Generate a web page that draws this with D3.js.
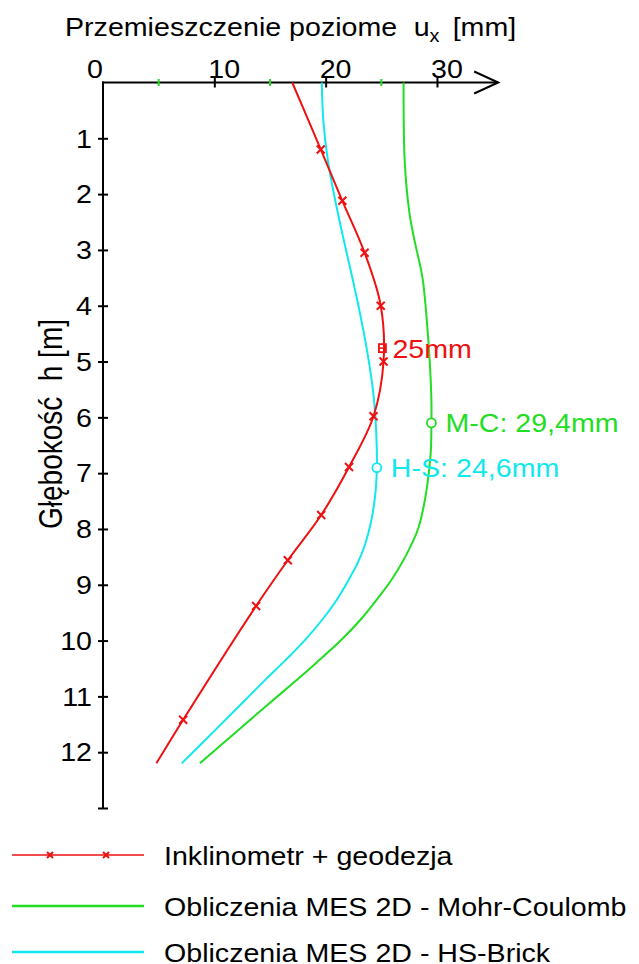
<!DOCTYPE html>
<html><head><meta charset="utf-8">
<script src="https://cdn.jsdelivr.net/npm/d3@7"></script>
<style>html,body{margin:0;padding:0;background:#fff;} svg{display:block;}</style>
</head><body><svg id="c" width="639" height="964"></svg>
<script>
// ---- data ----
const xTickValues = [0, 10, 20, 30];
const xTickLabels = ["0", "10", "20", "30"];
const xMinorTicks = [5, 15, 25];
const yTickValues = [1, 2, 3, 4, 5, 6, 7, 8, 9, 10, 11, 12, 13];
const yTickLabels = ["1", "2", "3", "4", "5", "6", "7", "8", "9", "10", "11", "12", ""];

const inclDepth  = [0, 1.2, 2.12, 3.05, 4.0, 5.0, 5.98, 6.89, 7.75, 8.56, 9.38, 11.42, 12.2];
const inclDisp   = [17.0, 19.56, 21.5, 23.5, 24.95, 25.2, 24.3, 22.1, 19.6, 16.6, 13.75, 7.2, 4.8];
const inclMarker = [0, 1, 1, 1, 1, 1, 1, 1, 1, 1, 1, 1, 0];

const mcDepth = [0, 1.4, 2.3, 2.8, 3.5, 4.3, 5.0, 5.7, 6.1, 6.6, 7.1, 7.5, 8.0, 8.5, 8.9, 9.2, 9.6, 10.0, 10.4, 10.8, 11.2, 11.7, 12.2];
const mcDisp  = [27.0, 27.1, 27.5, 27.95, 28.7, 29.1, 29.35, 29.5, 29.5, 29.45, 29.2, 28.9, 28.3, 27.15, 25.95, 24.85, 23.25, 21.35, 19.15, 16.85, 14.5, 11.6, 8.7];

const hsDepth = [0, 0.7, 1.4, 2.1, 2.8, 3.5, 4.2, 4.9, 5.6, 6.3, 6.9, 7.4, 7.9, 8.3, 8.6, 8.9, 9.3, 9.6, 10.0, 10.35, 10.7, 11.1, 11.6, 12.2];
const hsDisp  = [19.65, 19.8, 20.2, 20.85, 21.6, 22.4, 23.15, 23.8, 24.3, 24.55, 24.6, 24.45, 24.05, 23.5, 22.9, 22.1, 20.9, 19.8, 18.1, 16.4, 14.6, 12.6, 10.1, 7.07];

const annotDepth = [4.76, 6.1, 6.9];
const annotDisp  = [25.1, 29.5, 24.6];
const annotText  = ["25mm", "M-C: 29,4mm", "H-S: 24,6mm"];
const annotShape = ["square", "circle", "circle"];

const legendLabels = ["Inklinometr + geodezja", "Obliczenia MES 2D - Mohr-Coulomb", "Obliczenia MES 2D - HS-Brick"];

// ---- styling ----
const RED = "#ee1111", GREEN = "#22dd22", CYAN = "#11e8ee";
const FONT = "'Liberation Sans', Arial, sans-serif";
const FS = 26, SX = 1.1;
const seriesColors = [RED, GREEN, CYAN];
const annotColors = [RED, GREEN, CYAN];

const svg = d3.select("#c");
const x = d3.scaleLinear().domain([0, 35.5]).range([103, 498.2]);
const y = d3.scaleLinear().domain([0, 13]).range([82.5, 808]);

function stext(g, tx, ty, str, color, anchor, size) {
  return g.append("text")
    .attr("transform", `translate(${tx},${ty}) scale(${SX},1)`)
    .attr("text-anchor", anchor || "start")
    .attr("font-family", FONT)
    .attr("font-size", size || FS)
    .attr("fill", color || "#000")
    .text(str);
}

// ---- title ----
const title = svg.append("text")
  .attr("transform", `translate(65,36) scale(${SX},1)`)
  .attr("font-family", FONT).attr("font-size", FS).attr("fill", "#000");
title.append("tspan").text("Przemieszczenie poziome");
title.append("tspan").attr("dx", 15).text("u");
title.append("tspan").attr("dy", 6).attr("font-size", 18).text("x");
title.append("tspan").attr("dy", -6).attr("dx", 12).text("[mm]");

// ---- top axis ----
const axT = svg.append("g").attr("transform", `translate(0,${y(0)})`);
axT.call(d3.axisTop(x).tickValues(xTickValues.slice(1)).tickFormat("").tickSizeOuter(0))
  .call(g => g.select(".domain").remove());
axT.selectAll(".tick line").attr("y1", -5).attr("y2", 5).attr("stroke", "#000").attr("stroke-width", 2);
axT.append("line").attr("x1", x(0) - 1).attr("x2", x.range()[1]).attr("y1", 0).attr("y2", 0)
  .attr("stroke", "#000").attr("stroke-width", 2);
axT.append("path")
  .attr("d", `M${x.range()[1] - 24},-11 L${x.range()[1]},0 L${x.range()[1] - 24},11`)
  .attr("fill", "none").attr("stroke", "#000").attr("stroke-width", 2);
axT.selectAll(".minor").data(xMinorTicks).join("line").attr("class", "minor")
  .attr("x1", d => x(d)).attr("x2", d => x(d)).attr("y1", -3.5).attr("y2", 3.5)
  .attr("stroke", GREEN).attr("stroke-width", 2);
xTickValues.forEach((v, i) => {
  if (v === 0) stext(svg, x(v), 78, xTickLabels[i], "#000", "end");
  else stext(svg, x(v) - 6, 78, xTickLabels[i], "#000", "start");
});

// ---- left axis ----
const axL = svg.append("g").attr("transform", `translate(${x(0)},0)`);
axL.call(d3.axisLeft(y).tickValues(yTickValues).tickFormat("").tickSizeOuter(0))
  .call(g => g.select(".domain").remove());
axL.selectAll(".tick line").attr("x1", -5).attr("x2", 5).attr("stroke", "#000").attr("stroke-width", 2);
axL.append("line").attr("x1", 0).attr("x2", 0).attr("y1", y(0) - 1).attr("y2", y(13) + 1)
  .attr("stroke", "#000").attr("stroke-width", 2);
yTickValues.forEach((v, i) => {
  stext(svg, 92, y(v) + 9.3, yTickLabels[i], "#000", "end");
});

// y-axis title
svg.append("text")
  .attr("transform", `translate(62,424) scale(1.2,1) rotate(-90)`)
  .attr("text-anchor", "middle").attr("font-family", FONT).attr("font-size", 28)
  .attr("xml:space", "preserve").style("white-space", "pre")
  .text("Głębokość  h [m]");

// ---- curves ----
const line = d3.line().x(d => x(d.u)).y(d => y(d.h)).curve(d3.curveCatmullRom.alpha(0.5));
const incl = inclDepth.map((h, i) => ({h, u: inclDisp[i], m: inclMarker[i]}));
const mc = mcDepth.map((h, i) => ({h, u: mcDisp[i]}));
const hs = hsDepth.map((h, i) => ({h, u: hsDisp[i]}));

svg.append("path").attr("d", line(mc)).attr("fill", "none").attr("stroke", GREEN).attr("stroke-width", 2);
svg.append("path").attr("d", line(hs)).attr("fill", "none").attr("stroke", CYAN).attr("stroke-width", 2);
svg.append("path").attr("d", line(incl)).attr("fill", "none").attr("stroke", RED).attr("stroke-width", 2);

function cross(g, cx, cy, s) {
  g.append("path").attr("d", `M${cx - s},${cy - s}L${cx + s},${cy + s}M${cx - s},${cy + s}L${cx + s},${cy - s}`)
    .attr("stroke", RED).attr("stroke-width", 2).attr("fill", "none");
}
incl.filter(d => d.m).forEach(d => cross(svg, x(d.u), y(d.h), 4));

// ---- annotations ----
annotDepth.forEach((h, i) => {
  const cx = x(annotDisp[i]), cy = y(h), col = annotColors[i];
  if (annotShape[i] === "square") {
    svg.append("rect").attr("x", cx - 3.5).attr("y", cy - 4).attr("width", 7).attr("height", 8)
      .attr("fill", "none").attr("stroke", col).attr("stroke-width", 1.8);
    svg.append("line").attr("x1", cx - 3.5).attr("x2", cx + 3.5).attr("y1", cy).attr("y2", cy)
      .attr("stroke", col).attr("stroke-width", 1.5);
    stext(svg, cx + 10, cy + 10, annotText[i], col, "start");
  } else {
    svg.append("circle").attr("cx", cx).attr("cy", cy).attr("r", 4.5)
      .attr("fill", "#fff").attr("stroke", col).attr("stroke-width", 1.8);
    stext(svg, cx + 14, cy + 9.5, annotText[i], col, "start");
  }
});

// ---- legend ----
const legY = [855, 906, 952];
const legW = [1.5, 2.5, 2.5];
legendLabels.forEach((lab, i) => {
  svg.append("line").attr("x1", 12).attr("x2", 144).attr("y1", legY[i]).attr("y2", legY[i])
    .attr("stroke", seriesColors[i]).attr("stroke-width", legW[i]);
  if (i === 0) { cross(svg, 50, legY[i], 3); cross(svg, 106, legY[i], 3); }
  stext(svg, 164, legY[i] + 10, lab, "#000", "start");
});
</script></body></html>
